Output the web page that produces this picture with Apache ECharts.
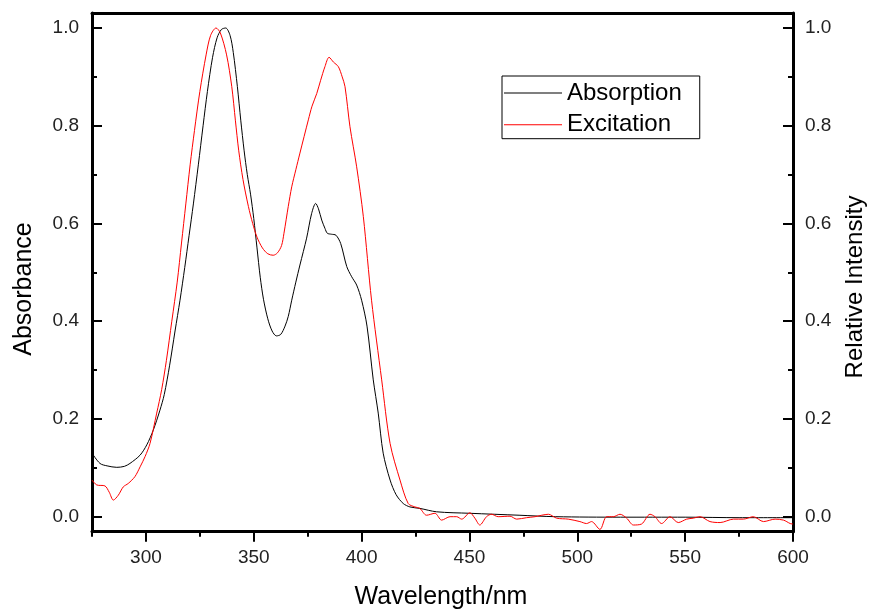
<!DOCTYPE html>
<html>
<head>
<meta charset="utf-8">
<script src="https://cdn.jsdelivr.net/npm/echarts@6/dist/echarts.min.js"></script>
<style>
  html, body { margin: 0; padding: 0; background: #fff; }
  #chart { width: 872px; height: 611px; }
</style>
</head>
<body>
<div id="chart"></div>
<script>
// Absorption spectrum (left axis, absorbance)
const absWavelength = [
  275, 278.7, 282, 286.5, 290, 292.6, 297.3, 300.4, 303.4, 306.5, 308.5, 311, 313.5, 315.8, 318,
  320, 322, 324.3, 326.5, 328.5, 330.9, 333, 335, 337, 339, 340.5, 342.4, 344, 345.5, 347,
  348.5, 350, 351.5, 353, 354.5, 356.5, 358.5, 360.5, 362.5, 364.5, 366, 367.6, 369.5, 371.4,
  374.5, 376.8, 378.7, 380, 381.5, 383, 384.1, 386, 388.1, 390.3, 393.1, 395.4, 397.7, 400,
  402.5, 405.4, 407.7, 410, 413.2, 416, 419.3, 422.4, 427, 434.8, 450, 473, 490, 520, 550, 575, 600
];
const absValues = [
  0.13, 0.109, 0.104, 0.101, 0.103, 0.109, 0.126, 0.147, 0.177, 0.218, 0.25, 0.31, 0.38, 0.443, 0.51,
  0.575, 0.64, 0.72, 0.80, 0.87, 0.94, 0.98, 0.997, 1.0, 0.985, 0.95, 0.88, 0.81, 0.75, 0.70,
  0.66, 0.61, 0.55, 0.49, 0.445, 0.405, 0.38, 0.37, 0.373, 0.39, 0.41, 0.443, 0.48, 0.515,
  0.57, 0.62, 0.641, 0.63, 0.607, 0.59, 0.58, 0.578, 0.576, 0.559, 0.512, 0.491, 0.474, 0.443,
  0.39, 0.28, 0.212, 0.13, 0.075, 0.045, 0.027, 0.02, 0.017, 0.01, 0.007, 0.003, 0.0, -0.001, -0.001, -0.002, -0.002
];

// Excitation spectrum (right axis, relative intensity)
const excWavelength = [
  275, 277.2, 281, 283, 284.9, 287.2, 289.5, 291.8, 294.9, 297.3, 299.6, 301.9, 305, 307.3, 309.5,
  312, 314.5, 316.5, 318.5, 320.5, 322.5, 325, 327.9, 330, 332.5, 334.5, 337.4, 339.8, 341.5,
  343, 345, 347.5, 349.5, 351.5, 354, 356.5, 359, 361, 362.9, 364, 366, 367.6, 369.5, 371.4,
  375.3, 377, 379.2, 381, 383, 384.9, 387, 389.2, 391, 392.3, 394.6, 397.7, 400.8, 404.6, 409.3,
  413.2, 417.8, 421.6, 424.7, 427, 430.1, 434, 437.1, 441, 444.1, 446.4, 450.2, 452.5, 454.8,
  457.9, 460.2, 463.3, 468.8, 471.9, 476.5, 480.4, 483.5, 486.6, 490.4, 495.8, 501.2, 504.3,
  506.6, 510.5, 513.6, 516.7, 519.8, 522.9, 526, 529.8, 533.7, 536, 539.1, 543, 546.8, 550.7,
  553.8, 556.9, 561.5, 566.2, 572.4, 577, 581.6, 586.3, 591.7, 595.6, 598.7, 600
];
const excValues = [
  0.075, 0.065, 0.063, 0.05, 0.034, 0.044, 0.061, 0.068, 0.082, 0.102, 0.123, 0.15, 0.212, 0.26, 0.32,
  0.40, 0.48, 0.56, 0.64, 0.72, 0.79, 0.87, 0.945, 0.985, 1.0, 0.99, 0.945, 0.88, 0.81,
  0.75, 0.69, 0.635, 0.60, 0.572, 0.55, 0.538, 0.535, 0.54, 0.555, 0.58, 0.635, 0.675, 0.71, 0.744,
  0.812, 0.84, 0.866, 0.893, 0.921, 0.94, 0.93, 0.921, 0.90, 0.88, 0.798, 0.716, 0.614, 0.443, 0.28,
  0.15, 0.075, 0.027, 0.02, 0.017, 0.003, 0.007, -0.007, 0.0, 0.0, -0.005, 0.008, -0.003, -0.017,
  0.0, 0.005, 0.0, 0.001, -0.005, -0.002, 0.0, 0.003, 0.005, -0.003, -0.005, -0.01, -0.014,
  -0.01, -0.026, 0.0, 0.0, 0.005, -0.003, -0.017, -0.015, 0.005, 0.0, -0.014, 0.0, -0.012, -0.005,
  -0.003, 0.0, -0.01, -0.012, -0.005, -0.005, 0.0, -0.01, -0.005, -0.007, -0.014, -0.015
];

// Tick positions
const xMajorTicks = [300, 350, 400, 450, 500, 550, 600];
const xMinorTicks = [275, 325, 375, 425, 475, 525, 575];
const yMajorTicks = [0, 0.2, 0.4, 0.6, 0.8, 1.0];
const yMinorTicks = [0.1, 0.3, 0.5, 0.7, 0.9];

const FONT = '"Liberation Sans", Arial, sans-serif';
const X_MIN = 275, X_MAX = 600;
const Y_MIN = -0.0307, Y_MAX = 1.0307;

const toPairs = (xs, ys) => xs.map((x, i) => [x, ys[i]]);

const axisLineStyle = { color: '#000', width: 3 };
const tickStyle = { color: '#000', width: 2 };

function xAxisDef(opts) {
  return Object.assign({
    type: 'value', min: X_MIN, max: X_MAX, position: 'bottom',
    axisLine: { show: false, onZero: false },
    axisTick: { show: false },
    axisLabel: { show: false },
    splitLine: { show: false }
  }, opts);
}
function yAxisDef(opts) {
  return Object.assign({
    type: 'value', min: Y_MIN, max: Y_MAX, position: 'left',
    axisLine: { show: false, onZero: false },
    axisTick: { show: false },
    axisLabel: { show: false },
    splitLine: { show: false }
  }, opts);
}

const labelStyle = { fontSize: 19, fontFamily: FONT, color: '#222' };

const chart = echarts.init(document.getElementById('chart'), null, { renderer: 'canvas' });
chart.setOption({
  animation: false,
  backgroundColor: '#fff',
  grid: { left: 92, right: 79, top: 13, bottom: 79.3, containLabel: false },
  xAxis: [
    xAxisDef({
      axisLine: { show: true, onZero: false, lineStyle: axisLineStyle },
      axisTick: { show: true, inside: false, length: 10, lineStyle: tickStyle, customValues: xMajorTicks },
      axisLabel: Object.assign({ show: true, margin: 17, customValues: xMajorTicks }, labelStyle)
    }),
    xAxisDef({
      axisTick: { show: true, inside: false, length: 5, lineStyle: tickStyle, customValues: xMinorTicks }
    }),
    xAxisDef({
      position: 'top',
      axisLine: { show: true, onZero: false, lineStyle: axisLineStyle }
    })
  ],
  yAxis: [
    yAxisDef({
      axisLine: { show: true, onZero: false, lineStyle: axisLineStyle },
      axisTick: { show: true, inside: true, length: 10, lineStyle: tickStyle, customValues: yMajorTicks },
      axisLabel: Object.assign({ show: true, margin: 13, customValues: yMajorTicks,
        formatter: v => v.toFixed(1) }, labelStyle)
    }),
    yAxisDef({
      axisTick: { show: true, inside: true, length: 5, lineStyle: tickStyle, customValues: yMinorTicks }
    }),
    yAxisDef({
      position: 'right',
      axisLine: { show: true, onZero: false, lineStyle: axisLineStyle },
      axisTick: { show: true, inside: true, length: 10, lineStyle: tickStyle, customValues: yMajorTicks },
      axisLabel: Object.assign({ show: true, margin: 12, customValues: yMajorTicks,
        formatter: v => v.toFixed(1) }, labelStyle)
    }),
    yAxisDef({
      position: 'right',
      axisTick: { show: true, inside: true, length: 5, lineStyle: tickStyle, customValues: yMinorTicks }
    })
  ],
  legend: {
    show: true,
    orient: 'vertical',
    left: 502, top: 76,
    icon: 'rect',
    itemWidth: 58, itemHeight: 1, itemGap: 7.7,
    padding: [5, 18, 2, 2],
    borderColor: '#000', borderWidth: 1,
    textStyle: { fontSize: 24, fontFamily: FONT, color: '#000', lineHeight: 24 },
    data: ['Absorption', 'Excitation']
  },
  series: [
    {
      name: 'Absorption', type: 'line', xAxisIndex: 0, yAxisIndex: 0,
      data: toPairs(absWavelength, absValues),
      symbol: 'none', showSymbol: false, smooth: 0.3,
      lineStyle: { color: '#000', width: 1 }, itemStyle: { color: '#000' }
    },
    {
      name: 'Excitation', type: 'line', xAxisIndex: 0, yAxisIndex: 2,
      data: toPairs(excWavelength, excValues),
      symbol: 'none', showSymbol: false, smooth: 0.3,
      lineStyle: { color: '#ff0000', width: 1 }, itemStyle: { color: '#ff0000' }
    }
  ],
  graphic: [
    { type: 'text', x: 24, y: 289, rotation: Math.PI / 2,
      style: { text: 'Absorbance', font: '25px ' + FONT, fill: '#000', textAlign: 'center', textVerticalAlign: 'middle' } },
    { type: 'text', x: 855, y: 287, rotation: Math.PI / 2,
      style: { text: 'Relative Intensity', font: '24px ' + FONT, fill: '#000', textAlign: 'center', textVerticalAlign: 'middle' } },
    { type: 'text', x: 441, y: 597,
      style: { text: 'Wavelength/nm', font: '25px ' + FONT, fill: '#000', textAlign: 'center', textVerticalAlign: 'middle' } }
  ]
});
</script>
</body>
</html>
